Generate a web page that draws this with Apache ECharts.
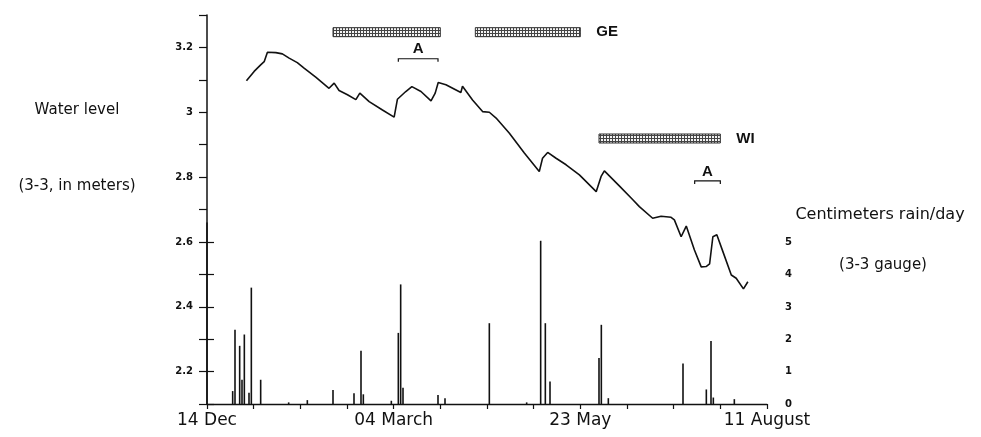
<!DOCTYPE html>
<html><head><meta charset="utf-8">
<script src="https://cdn.jsdelivr.net/npm/echarts@6/dist/echarts.min.js"></script>
<style>html,body{margin:0;padding:0;background:#fff}#c{width:981px;height:437px}</style>
</head><body><div id="c"></div>
<script>
// x axis: days since 14 Dec
const xTickDays = [0, 80, 160, 240];
const xTickLabels = ['14 Dec', '04 March', '23 May', '11 August'];
const leftTickValues = [2.2, 2.4, 2.6, 2.8, 3, 3.2];
const leftMinorTicks = [2.1, 2.2, 2.3, 2.4, 2.5, 2.6, 2.7, 2.8, 2.9, 3.0, 3.1, 3.2, 3.3];
const rightTickValues = [0, 1, 2, 3, 4, 5];

// water level (m) at 3-3
const levelDay = [16.9, 20.2, 23.0, 24.5, 25.9, 29.5, 32.3, 35.2, 38.7, 41.6, 46.6, 52.3, 54.5, 56.6, 60.2, 63.8, 65.5, 69.5, 75.2, 80.2, 81.6, 85.2, 87.8, 91.7, 96.0, 97.8, 99.1, 102.4, 108.8, 109.5, 113.8, 118.1, 121.0, 123.9, 129.6, 136.0, 142.4, 143.8, 146.0, 149.6, 153.9, 159.6, 166.8, 168.9, 170.3, 176.7, 182.5, 185.3, 191.0, 194.6, 198.9, 200.3, 203.2, 205.4, 208.9, 211.8, 213.9, 215.4, 216.8, 218.5, 221.1, 224.7, 226.8, 229.9, 231.8];
const levelM = [3.097, 3.126, 3.146, 3.156, 3.185, 3.184, 3.180, 3.167, 3.153, 3.136, 3.108, 3.074, 3.090, 3.067, 3.054, 3.039, 3.059, 3.033, 3.007, 2.985, 3.040, 3.064, 3.079, 3.064, 3.035, 3.059, 3.092, 3.085, 3.061, 3.080, 3.038, 3.002, 3.000, 2.982, 2.935, 2.874, 2.817, 2.858, 2.876, 2.858, 2.838, 2.807, 2.755, 2.802, 2.819, 2.773, 2.730, 2.709, 2.673, 2.679, 2.676, 2.668, 2.616, 2.649, 2.575, 2.523, 2.524, 2.532, 2.616, 2.622, 2.570, 2.498, 2.488, 2.455, 2.477];

// daily rain (cm) at 3-3 gauge
const rainDay = [11, 12, 14, 15, 16, 18, 19, 23, 35, 43, 54, 63, 66, 67, 79, 82, 83, 84, 99, 102, 121, 137, 143, 145, 147, 168, 169, 172, 204, 214, 216, 217, 226];
const rainCm  = [0.4, 2.3, 1.8, 0.75, 2.15, 0.35, 3.6, 0.75, 0.05, 0.12, 0.43, 0.33, 1.65, 0.3, 0.1, 2.2, 3.7, 0.5, 0.28, 0.18, 2.5, 0.05, 5.05, 2.5, 0.7, 1.42, 2.45, 0.18, 1.25, 0.45, 1.95, 0.2, 0.15];

// hatched periods
const periodStart = [54, 115, 168];
const periodEnd = [100, 160, 220];
const periodLevel = [3.247, 3.247, 2.919];
const periodLabel = ['', 'GE', 'WI'];

// "A" brackets
const bracketStart = [82, 209];
const bracketEnd = [99, 220];
const bracketLevel = [3.165, 2.788];
const bracketLabel = ['A', 'A'];

const ink = '#111';
const pc = document.createElement('canvas');
pc.width = 3; pc.height = 3;
const pctx = pc.getContext('2d');
pctx.fillStyle = '#444'; pctx.fillRect(0, 0, 3, 3);
pctx.fillStyle = '#f4f4f4'; pctx.fillRect(1, 1, 2, 2);
const hatch = { image: pc, repeat: 'repeat' };

const chart = echarts.init(document.getElementById('c'), null, { renderer: 'canvas' });
const axisFont = 'DejaVu Sans';
chart.setOption({
  animation: false,
  backgroundColor: '#fff',
  grid: [
    { left: 207, right: 214, top: 15, bottom: 33 },
    { left: 207, right: 214, top: 223, bottom: 33 }
  ],
  xAxis: [
    { gridIndex: 0, type: 'value', min: 0, max: 240, interval: 20,
      axisLine: { show: true, lineStyle: { color: ink, width: 1.3 } },
      axisTick: { show: true, length: 5, lineStyle: { color: ink, width: 1.2 } },
      axisLabel: { customValues: xTickDays, margin: 8, fontFamily: axisFont, fontSize: 17, color: ink,
        formatter: v => xTickLabels[xTickDays.indexOf(v)] || '' },
      splitLine: { show: false } },
    { gridIndex: 1, type: 'value', min: 0, max: 240, show: false }
  ],
  yAxis: [
    { gridIndex: 0, type: 'value', min: 2.1, max: 3.3, interval: 0.1, position: 'left',
      axisLine: { show: true, lineStyle: { color: ink, width: 1.5 } },
      axisTick: { show: true, length: 8, customValues: leftMinorTicks, lineStyle: { color: ink, width: 1.2 } },
      axisLabel: { customValues: leftTickValues, margin: 14, fontFamily: axisFont, fontSize: 10, fontWeight: 'bold', color: ink },
      splitLine: { show: false } },
    { gridIndex: 1, type: 'value', min: 0, max: 5.6, interval: 1, position: 'right',
      axisLine: { show: true, lineStyle: { color: ink, width: 1.5 } },
      axisTick: { show: true, length: 7, customValues: rightTickValues, lineStyle: { color: ink, width: 1.2 } },
      axisLabel: { customValues: rightTickValues, margin: 18, fontFamily: axisFont, fontSize: 10, fontWeight: 'bold', color: ink },
      splitLine: { show: false } }
  ],
  series: [
    { type: 'bar', xAxisIndex: 1, yAxisIndex: 1, barWidth: 1.6,
      itemStyle: { color: ink },
      data: rainDay.map((d, i) => [d, rainCm[i]]) },
    { type: 'line', xAxisIndex: 0, yAxisIndex: 0, showSymbol: false, symbol: 'none',
      lineStyle: { color: ink, width: 1.6 },
      data: levelDay.map((d, i) => [d, levelM[i]]) },
    { type: 'custom', xAxisIndex: 0, yAxisIndex: 0,
      data: periodStart.map((s, i) => [s, periodEnd[i], periodLevel[i]]),
      encode: { x: [0, 1], y: 2 },
      renderItem: (params, api) => {
        const s = api.coord([api.value(0), api.value(2)]);
        const e = api.coord([api.value(1), api.value(2)]);
        const h = 9;
        const children = [{ type: 'rect', shape: { x: s[0], y: s[1] - h / 2, width: e[0] - s[0], height: h },
          style: { fill: hatch, stroke: '#333', lineWidth: 1 } }];
        const lab = periodLabel[params.dataIndex];
        if (lab) children.push({ type: 'text', style: { text: lab, x: e[0] + 16, y: s[1], verticalAlign: 'middle',
          font: 'bold 15px "Liberation Sans"', fill: ink } });
        return { type: 'group', children };
      } },
    { type: 'custom', xAxisIndex: 0, yAxisIndex: 0,
      data: bracketStart.map((s, i) => [s, bracketEnd[i], bracketLevel[i]]),
      encode: { x: [0, 1], y: 2 },
      renderItem: (params, api) => {
        const s = api.coord([api.value(0), api.value(2)]);
        const e = api.coord([api.value(1), api.value(2)]);
        return { type: 'group', children: [
          { type: 'polyline', shape: { points: [[s[0], s[1] + 3], [s[0], s[1]], [e[0], s[1]], [e[0], s[1] + 3]] },
            style: { stroke: ink, lineWidth: 1.2, fill: null } },
          { type: 'text', style: { text: bracketLabel[params.dataIndex], x: (s[0] + e[0]) / 2, y: s[1] - 2,
            align: 'center', verticalAlign: 'bottom', font: 'bold 15px "Liberation Sans"', fill: ink } }
        ] };
      } }
  ],
  graphic: [
    { type: 'text', style: { text: 'Water level', x: 77, y: 110, align: 'center', verticalAlign: 'middle', font: '15px "DejaVu Sans"', fill: ink } },
    { type: 'text', style: { text: '(3-3, in meters)', x: 77, y: 186, align: 'center', verticalAlign: 'middle', font: '15px "DejaVu Sans"', fill: ink } },
    { type: 'text', style: { text: 'Centimeters rain/day', x: 880, y: 215, align: 'center', verticalAlign: 'middle', font: '16px "DejaVu Sans"', fill: ink } },
    { type: 'text', style: { text: '(3-3 gauge)', x: 883, y: 265, align: 'center', verticalAlign: 'middle', font: '15px "DejaVu Sans"', fill: ink } }
  ]
});
</script>
</body></html>
